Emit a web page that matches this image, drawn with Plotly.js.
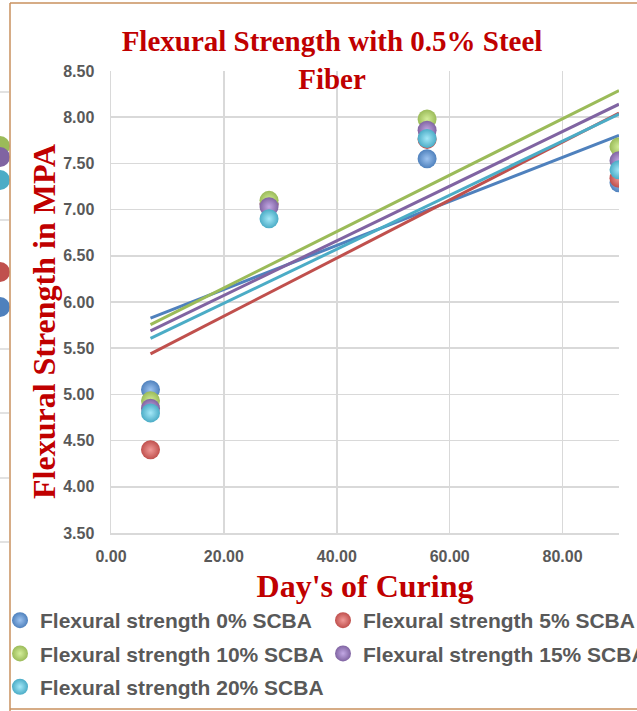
<!DOCTYPE html>
<html>
<head>
<meta charset="utf-8">
<script src="https://cdn.plot.ly/plotly-3.0.1.min.js"></script>
<style>html,body{margin:0;padding:0;background:#fff;}#chart{width:637px;height:711px;}</style>
</head>
<body>
<div id="chart"></div>
<script>
// Data
const days = [7, 28, 56, 90];
const scba0  = [5.05, 7.06, 7.55, 7.29];
const scba5  = [4.40, 7.06, 7.76, 7.34];
const scba10 = [4.93, 7.10, 7.98, 7.68];
const scba15 = [4.85, 7.03, 7.86, 7.53];
const scba20 = [4.80, 6.90, 7.77, 7.43];
const seriesNames = ['Flexural strength 0% SCBA', 'Flexural strength 5% SCBA', 'Flexural strength 10% SCBA', 'Flexural strength 15% SCBA', 'Flexural strength 20% SCBA'];
const xTickVals = [0, 20, 40, 60, 80];
const yTickVals = [3.5, 4.0, 4.5, 5.0, 5.5, 6.0, 6.5, 7.0, 7.5, 8.0, 8.5];

const series = [scba0, scba5, scba10, scba15, scba20];
const colors = ['#4F81BD', '#C0504D', '#9BBB59', '#8064A2', '#4BACC6'];
const lights = ['#9DC3F0', '#F09A98', '#D4EE9A', '#C2A8E4', '#A4E8F8'];
const legendOf = ['legend', 'legend2', 'legend', 'legend2', 'legend'];

function linfit(xs, ys) {
  const n = xs.length;
  const mx = xs.reduce((a, b) => a + b, 0) / n;
  const my = ys.reduce((a, b) => a + b, 0) / n;
  let sxy = 0, sxx = 0;
  for (let i = 0; i < n; i++) { sxy += (xs[i] - mx) * (ys[i] - my); sxx += (xs[i] - mx) ** 2; }
  const m = sxy / sxx;
  return x => my + m * (x - mx);
}

const traces = [];
series.forEach((ys, i) => {
  const f = linfit(days, ys);
  const xs = [Math.min(...days), Math.max(...days)];
  traces.push({
    x: xs, y: xs.map(f), type: 'scatter', mode: 'lines',
    line: {color: colors[i], width: 3}, showlegend: false, hoverinfo: 'skip'
  });
});
series.forEach((ys, i) => {
  traces.push({
    x: days, y: ys, type: 'scatter', mode: 'markers', name: '<b>' + seriesNames[i] + '</b>',
    legend: legendOf[i], legendgroup: 'g' + i,
    marker: {size: 19, color: colors[i], gradient: {type: 'radial', color: lights[i]},
             line: {width: 0}}
  });
});

const L = 111, R = 619, T = 71, B = 533;
const px = v => (v - L) / (R - L);
const py = v => (B - v) / (B - T);

const shapes = [
  {type: 'line', xref: 'paper', yref: 'paper', x0: px(10), x1: px(10), y0: py(3), y1: py(711), line: {color: '#C9915E', width: 1.5}},
  {type: 'line', xref: 'paper', yref: 'paper', x0: px(10), x1: px(637), y0: py(3), y1: py(3), line: {color: '#C9915E', width: 1.5}},
  {type: 'line', xref: 'paper', yref: 'paper', x0: px(10), x1: px(637), y0: py(709), y1: py(709), line: {color: '#C9915E', width: 1.5}}
];
[92, 220, 349, 413, 478, 542].forEach(v => shapes.push({
  type: 'line', xref: 'paper', yref: 'paper', x0: px(0), x1: px(9), y0: py(v), y1: py(v),
  line: {color: '#D9D9D9', width: 1.5}, layer: 'below'
}));
[[146, '#9BBB59'], [157, '#8064A2'], [180, '#4BACC6'], [272, '#C0504D'], [307, '#4F81BD']].forEach(([c, col]) => shapes.push({
  type: 'circle', xref: 'paper', yref: 'paper', x0: px(-10), x1: px(10), y0: py(c - 10), y1: py(c + 10),
  fillcolor: col, line: {width: 0}, layer: 'below'
}));

const sans = 'Liberation Sans, Arial, sans-serif';
const serif = 'Liberation Serif, Times New Roman, serif';
const legendFont = {family: sans, size: 21, color: '#595959'};
const tickFont = {family: sans, size: 16, color: '#595959'};
const bold = v => '<b>' + v.toFixed(2) + '</b>';

const layout = {
  width: 637, height: 711,
  margin: {l: L, r: 637 - R, t: T, b: 711 - B, autoexpand: false},
  paper_bgcolor: '#ffffff', plot_bgcolor: '#ffffff',
  title: {
    text: '<b>Flexural Strength with 0.5% Steel<br>Fiber</b>',
    font: {family: serif, size: 29, color: '#C00000'},
    x: px(332), xref: 'paper', xanchor: 'center',
    y: 1 - 51 / 711, yref: 'container', yanchor: 'middle'
  },
  xaxis: {
    range: [0, 90], tickvals: xTickVals, ticktext: xTickVals.map(bold),
    showgrid: true, gridcolor: '#D9D9D9', gridwidth: 1.5,
    showline: true, linecolor: '#D9D9D9', linewidth: 1.5, zeroline: false,
    ticks: '', ticklen: 0, ticklabelstandoff: 8,
    tickfont: tickFont,
    title: {text: "<b>Day's of Curing</b>", standoff: 11,
            font: {family: serif, size: 32, color: '#C00000'}}
  },
  yaxis: {
    range: [3.5, 8.5], tickvals: yTickVals, ticktext: yTickVals.map(bold),
    showgrid: true, gridcolor: '#D9D9D9', gridwidth: 1.5,
    showline: true, linecolor: '#D9D9D9', linewidth: 1.5, zeroline: false,
    ticks: '', ticklen: 0, ticklabelstandoff: 12,
    tickfont: tickFont
  },
  annotations: [{
    text: '<b>Flexural Strength in MPA</b>', textangle: -90, showarrow: false,
    xref: 'paper', yref: 'paper', x: px(44), y: py(322), xanchor: 'center', yanchor: 'middle',
    font: {family: serif, size: 32, color: '#C00000'}
  }],
  legend: {
    x: px(0), xanchor: 'left', y: py(600), yanchor: 'top', orientation: 'v',
    font: legendFont, tracegroupgap: 3, itemwidth: 30, bgcolor: 'rgba(0,0,0,0)'
  },
  legend2: {
    x: px(323), xanchor: 'left', y: py(600), yanchor: 'top', orientation: 'v',
    font: legendFont, tracegroupgap: 3, itemwidth: 30, bgcolor: 'rgba(0,0,0,0)'
  },
  shapes: shapes,
  showlegend: true
};

Plotly.newPlot('chart', traces, layout, {displayModeBar: false, staticPlot: true});
</script>
</body>
</html>
